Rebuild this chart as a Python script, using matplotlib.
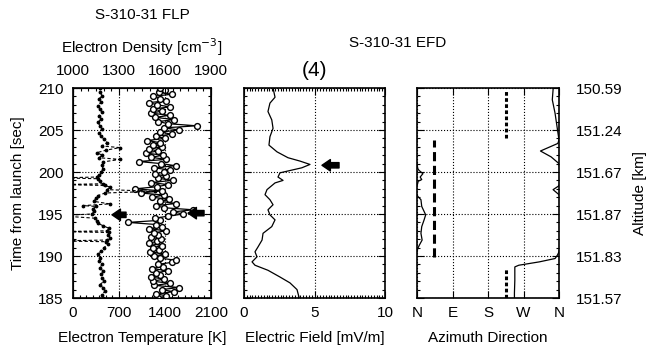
import matplotlib

matplotlib.use("Agg")
import matplotlib.pyplot as plt
from matplotlib.ticker import MultipleLocator

plt.rcParams["font.family"] = ["Liberation Sans", "DejaVu Sans"]
plt.rcParams["font.size"] = 11

# FLP: electron temperature (bottom axis) sampled every 0.25 s from 185 to 210 s
temp_time = [185 + 0.25 * i for i in range(101)]
temp_k = [
    1300, 1420, 1270, 1530, 1350, 1610, 1240, 1480, 1210, 1390,
    1180, 1330, 1260, 1450, 1200, 1370, 1290, 1510, 1560, 1320,
    1240, 1400, 1170, 1310, 1220, 1360, 1150, 1280, 1340, 1190,
    1300, 1230, 1410, 1160, 1350, 1260, 840, 1330, 1250, 1450,
    1680, 1520, 1830, 1380, 1260, 1570, 1330, 1460, 1200, 1390,
    1030, 1350, 950, 1280, 1440, 1190, 1520, 1300, 1420, 1250,
    1380, 1470, 1230, 1560, 1340, 1000, 1420, 1190, 1370, 1110,
    1290, 1150, 1360, 1210, 1320, 1130, 1400, 1260, 1500, 1330,
    1620, 1380, 1880, 1450, 1300, 1540, 1250, 1470, 1190, 1350,
    1220, 1480, 1280, 1160, 1420, 1330, 1210, 1500, 1310, 1400,
    1320,
]

# FLP: electron density (top axis)
dens_time = [
    185.0, 185.4, 185.8, 186.2, 186.6, 187.0, 187.4, 187.8, 188.2, 188.6,
    189.0, 189.4, 189.8, 190.2, 190.6, 191.0, 191.4, 191.7, 191.8, 191.9,
    192.2, 192.5, 192.8, 192.9, 193.0, 193.3, 193.6, 193.9, 194.2, 194.5,
    194.8, 195.0, 195.3, 195.6, 195.9, 196.0, 196.2, 196.5, 196.9, 197.2,
    197.5, 197.7, 197.9, 198.2, 198.4, 198.5, 198.6, 198.9, 199.2, 199.3,
    199.4, 199.7, 200.0, 200.4, 200.8, 201.2, 201.5, 201.7, 202.0, 202.3,
    202.6, 202.9, 203.1, 203.5, 203.9, 204.3, 204.7, 205.1, 205.5, 205.9,
    206.3, 206.7, 207.1, 207.5, 207.9, 208.3, 208.7, 209.1, 209.5, 210.0,
]
dens_cm3 = [
    1196, 1189, 1209, 1196, 1176, 1202, 1189, 1183, 1196, 1176,
    1189, 1170, 1176, 1163, 1183, 1202, 1228, 1215, 900, 1222,
    1241, 1228, 1235, 900, 1222, 1235, 1196, 1163, 1157, 1143,
    900, 1124, 1137, 1130, 1150, 1065, 1241, 1137, 1150, 1163,
    1209, 1535, 1222, 1241, 1209, 900, 1196, 1176, 1163, 900,
    1157, 1170, 1183, 1196, 1189, 1196, 1306, 1170, 1189, 1157,
    1215, 1306, 1189, 1222, 1202, 1183, 1170, 1189, 1176, 1163,
    1183, 1170, 1189, 1176, 1163, 1183, 1170, 1189, 1176, 1176,
]

# EFD: electric field magnitude
efield_time = [
    185.0, 185.1, 186.0, 186.8, 187.5, 188.3, 188.9, 189.3, 189.9, 190.5,
    191.1, 191.9, 192.7, 193.5, 194.3, 194.9, 195.5, 196.1, 196.7, 197.3,
    197.9, 198.7, 199.0, 199.4, 199.9, 200.5, 200.9, 201.3, 201.7, 202.4,
    203.2, 204.2, 205.2, 206.2, 207.2, 208.2, 208.9, 210.0,
]
efield_mv = [
    3.9, 3.9, 3.76, 3.26, 2.55, 1.7, 0.78, 0.57, 0.92, 0.78,
    1.0, 1.28, 1.35, 1.97, 2.2, 1.84, 1.7, 2.06, 1.84, 1.49,
    1.63, 2.2, 2.77, 2.41, 2.55, 4.1, 4.68, 3.97, 3.12, 2.34,
    1.77, 1.84, 2.06, 1.97, 1.7, 1.84, 2.2, 2.06,
]

# EFD: azimuth of the field (unwrapped, degrees from N through E)
azimuth_time = [
    185.0, 185.6, 187.1, 188.7, 188.9, 189.3, 189.7, 190.1, 190.5, 190.9,
    191.3, 191.9, 192.7, 193.5, 194.3, 194.9, 195.3, 195.9, 196.7, 197.1,
    197.3, 197.9, 198.3, 198.5, 198.9, 199.1, 199.4, 199.8, 200.2, 200.4,
    201.0, 201.8, 202.5, 203.4, 203.8, 205.4, 207.0, 208.6, 209.8, 210.0,
]
azimuth_deg = [
    247, 247, 248, 248, 258, 310, 350, 356, 360, 362,
    366, 373, 370, 372, 378, 382, 378, 372, 370, 362,
    360, 345, 358, 361, 363, 372, 368, 375, 365, 362,
    360, 340, 313, 357, 360, 355, 350, 343, 345, 345,
]

# EFD: dashed segments (direction, start, end)
seg_direction = [226, 43, 226]
seg_start = [204.0, 189.9, 185.0]
seg_end = [209.8, 203.8, 188.6]
seg_style = [(0, (1.2, 0.8)), (0, (3, 1.5)), (0, (1.2, 0.8))]

time_ticks = [185, 190, 195, 200, 205, 210]
altitude_labels = ["151.57", "151.83", "151.87", "151.67", "151.24", "150.59"]
azimuth_ticks = [0, 90, 180, 270, 360]
azimuth_labels = ["N", "E", "S", "W", "N"]

# arrows: (time, tip value, tail value)
temp_arrows = [(194.9, 594, 807), (195.1, 1750, 1994)]
efield_arrow = (200.8, 5.53, 6.74)


def style_axes(ax, top=True):
    ax.tick_params(which="both", direction="in", top=top, right=True, width=0.8)
    ax.tick_params(which="major", length=5)
    ax.tick_params(which="minor", length=2.5)
    ax.grid(True, which="major", linestyle=":", color="black", linewidth=0.8)
    ax.set_axisbelow(True)
    for spine in ax.spines.values():
        spine.set_linewidth(1.2)
    ax.set_ylim(185, 210)
    ax.set_yticks(time_ticks)
    ax.yaxis.set_minor_locator(MultipleLocator(1))


def draw_arrow(ax, t, tip, tail):
    ax.annotate(
        "",
        xy=(tip, t),
        xytext=(tail, t),
        arrowprops=dict(
            arrowstyle="simple,head_length=0.55,head_width=0.75,tail_width=0.35",
            color="black",
            shrinkA=0,
            shrinkB=0,
        ),
    )


fig = plt.figure(figsize=(6.46, 3.51), dpi=100)
bottom = 53 / 351
height = 210 / 351
ax1 = fig.add_axes([73 / 646, bottom, 138 / 646, height])
ax2 = fig.add_axes([244 / 646, bottom, 141 / 646, height])
ax3 = fig.add_axes([417 / 646, bottom, 142 / 646, height])

# --- FLP panel
style_axes(ax1, top=False)
ax1.set_xlim(0, 2100)
ax1.set_xticks([0, 700, 1400, 2100])
ax1.xaxis.set_minor_locator(MultipleLocator(100))
ax1.plot(temp_k, temp_time, "-", color="black", linewidth=0.9,
         marker="o", markersize=4.2, markerfacecolor="white",
         markeredgecolor="black", markeredgewidth=1.0, zorder=3)
for t, tip, tail in temp_arrows:
    draw_arrow(ax1, t, tip, tail)
ax1.tick_params(axis="y", pad=7)
ax1.tick_params(axis="x", pad=6)
ax1.set_xlabel("Electron Temperature [K]", labelpad=8)

ax1t = ax1.twiny()
ax1t.set_xlim(1000, 1900)
ax1t.set_xticks([1000, 1300, 1600, 1900])
ax1t.xaxis.set_minor_locator(MultipleLocator(50))
ax1t.tick_params(which="both", direction="in", width=0.8, pad=7)
ax1t.tick_params(which="major", length=5)
ax1t.tick_params(which="minor", length=2.5)
ax1t.plot(dens_cm3, dens_time, linestyle=(0, (3, 2)), color="black", linewidth=0.8,
          marker=".", markersize=3.5, zorder=2)
ax1t.set_ylim(185, 210)
ax1t.set_xlabel("Electron Density [cm$^{-3}$]", labelpad=8)

# --- Electric field panel
style_axes(ax2)
ax2.set_xlim(0, 10)
ax2.set_xticks([0, 5, 10])
ax2.xaxis.set_minor_locator(MultipleLocator(0.2))
ax2.tick_params(axis="y", labelleft=False)
ax2.tick_params(axis="x", pad=6)
ax2.plot(efield_mv, efield_time, color="black", linewidth=0.9)
draw_arrow(ax2, *efield_arrow)
ax2.set_xlabel("Electric Field [mV/m]", labelpad=8)

# --- Azimuth panel
style_axes(ax3)
ax3.set_xlim(0, 360)
ax3.set_xticks(azimuth_ticks)
ax3.set_xticklabels(azimuth_labels)
ax3.tick_params(axis="x", pad=6)
ax3.tick_params(axis="y", labelleft=False, labelright=True, pad=12)
ax3.set_yticklabels(altitude_labels)
ax3.plot(azimuth_deg, azimuth_time, color="black", linewidth=0.9)
ax3.plot([a - 360 for a in azimuth_deg], azimuth_time, color="black", linewidth=0.9)
for d, t0, t1, ls in zip(seg_direction, seg_start, seg_end, seg_style):
    ax3.plot([d, d], [t0, t1], color="black", linewidth=2.2, linestyle=ls)
ax3.set_xlabel("Azimuth Direction", labelpad=8)
ax3.yaxis.set_label_position("right")
ax3.set_ylabel("Altitude [km]", labelpad=8)

fig.text(18 / 646, 1 - 193 / 351, "Time from launch [sec]", rotation=90,
         ha="center", va="center")
fig.text(142 / 646, 1 - 15 / 351, "S-310-31 FLP", ha="center", va="center")
fig.text(398 / 646, 1 - 43 / 351, "S-310-31 EFD", ha="center", va="center")
fig.text(314.5 / 646, 1 - 70 / 351, "(4)", fontsize=15, ha="center", va="center")

fig.savefig("out.png", dpi=100)
plt.close(fig)
